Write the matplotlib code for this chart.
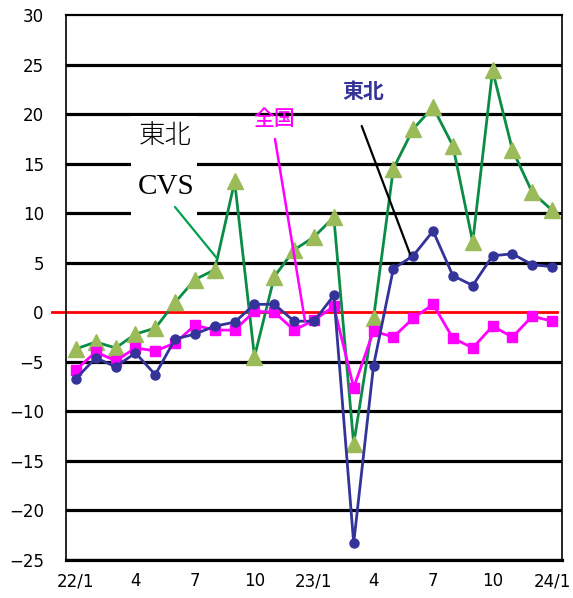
import matplotlib
matplotlib.use("Agg")
import matplotlib.pyplot as plt
from matplotlib.patches import Rectangle

plt.rcParams['font.family'] = ['DejaVu Sans', 'Noto Sans CJK JP']

# Monthly year-on-year change (%), Jan 2022 - Jan 2024
months = list(range(25))
tick_pos = [0, 3, 6, 9, 12, 15, 18, 21, 24]
tick_labels = ["22/1", "4", "7", "10", "23/1", "4", "7", "10", "24/1"]

tohoku_cvs = [-3.7, -3.0, -3.6, -2.2, -1.6, 1.0, 3.3, 4.3, 13.2, -4.5, 3.6, 6.3, 7.6,
              9.6, -13.3, -0.6, 14.5, 18.5, 20.7, 16.8, 7.1, 24.4, 16.4, 12.1, 10.3]
tohoku = [-6.7, -4.6, -5.5, -4.1, -6.3, -2.7, -2.2, -1.4, -1.0, 0.8, 0.8, -0.9, -0.9,
          1.7, -23.3, -5.4, 4.4, 5.7, 8.2, 3.7, 2.7, 5.7, 5.9, 4.8, 4.6]
national = [-5.8, -4.0, -4.9, -3.6, -3.9, -3.1, -1.3, -1.8, -1.8, 0.1, 0.0, -1.8, -0.8,
            0.6, -7.6, -1.9, -2.5, -0.6, 0.8, -2.6, -3.6, -1.4, -2.5, -0.4, -0.9]

y_ticks = list(range(-25, 31, 5))

fig = plt.figure(figsize=(5.73, 5.98), dpi=100)
ax = fig.add_axes([66 / 573, 1 - 560 / 598, 496 / 573, 545 / 598])
ax.set_xlim(-0.5, 24.5)
ax.set_ylim(-25, 30)

# horizontal rules every 5 points (zero line drawn in red)
for v in y_ticks:
    if v == 0 or v == 30:
        continue
    ax.axhline(v, color="black", lw=2.3, zorder=1)
ax.plot([-1.2, 24.27], [0, 0], color="#ff0000", lw=2.0, zorder=2, clip_on=False)

for side in ("left", "right"):
    ax.spines[side].set_linewidth(1.2)
ax.spines["top"].set_linewidth(1.6)
ax.spines["bottom"].set_linewidth(2.3)

ax.set_yticks(y_ticks)
ax.set_yticklabels([str(v).replace("-", "\u2212") for v in y_ticks])
ax.set_xticks(tick_pos)
ax.set_xticklabels(tick_labels)
ax.tick_params(axis="y", length=0, pad=16, labelsize=12)
ax.tick_params(axis="x", length=0, pad=9, labelsize=12)

ax.plot(months, tohoku_cvs, color="#0a8c45", lw=2.0, marker="^", markersize=12,
        markerfacecolor="#9bbb59", markeredgecolor="#9bbb59", zorder=3)
ax.plot(months, national, color="#ff00ff", lw=2.0, marker="s", markersize=7,
        markerfacecolor="#ff00ff", markeredgecolor="#ff00ff", zorder=4)
ax.plot(months, tohoku, color="#333399", lw=2.0, marker="o", markersize=6.5,
        markerfacecolor="#333399", markeredgecolor="#333399", zorder=5)

# white panel behind the CVS label
ax.add_patch(Rectangle((131 / 573, 1 - 218 / 598), 66 / 573, 102 / 598,
                       transform=fig.transFigure, facecolor="white",
                       edgecolor="none", zorder=1.5, clip_on=False))

fp = "figure pixels"
leader = dict(arrowstyle="-", shrinkA=0, shrinkB=0)
ax.annotate("", xy=(216.7, 340), xytext=(175, 391), xycoords=fp, textcoords=fp,
            arrowprops=dict(leader, color="#00a050", lw=1.6), zorder=6)
ax.annotate("", xy=(305, 277), xytext=(275, 459), xycoords=fp, textcoords=fp,
            arrowprops=dict(leader, color="#ff00ff", lw=1.8), zorder=6)
ax.annotate("", xy=(410, 344), xytext=(361.7, 472), xycoords=fp, textcoords=fp,
            arrowprops=dict(leader, color="black", lw=1.6), zorder=6)

fig.text(165 / 573, 1 - 135 / 598, "東北", ha="center", va="center", fontsize=19,
         family=["Noto Sans CJK JP"], fontweight="light", color="black", zorder=7)
fig.text(166 / 573, 1 - 187 / 598, "CVS", ha="center", va="center", fontsize=21,
         family=["Liberation Serif"], color="black", zorder=7)
fig.text(274 / 573, 1 - 119 / 598, "全国", ha="center", va="center", fontsize=15,
         family=["Noto Sans CJK JP"], fontweight="medium", color="#ff00ff", zorder=7)
fig.text(363.5 / 573, 1 - 91 / 598, "東北", ha="center", va="center", fontsize=15,
         family=["Noto Sans CJK JP"], fontweight="bold", color="#333399", zorder=7)

fig.savefig("out.png", dpi=100)
